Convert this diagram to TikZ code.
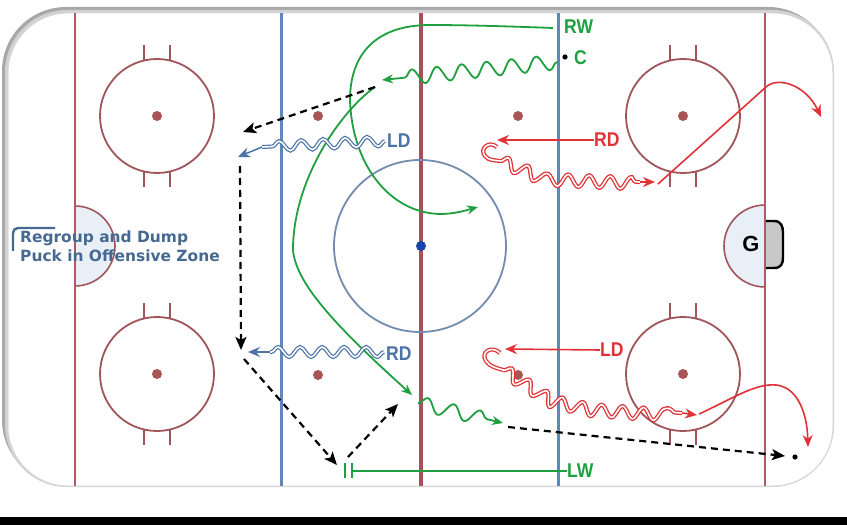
\documentclass[tikz,border=0pt]{standalone}
\usepackage{fontspec}
\usepackage{graphicx}
\usetikzlibrary{arrows.meta,decorations.pathmorphing}
\newfontfamily\lblfont{Liberation Sans}
\newfontfamily\capfont{DejaVu Sans}
\definecolor{rinkred}{RGB}{178,88,100}
\definecolor{cline}{RGB}{165,80,90}
\definecolor{faceoff}{RGB}{160,85,90}
\definecolor{rinkblue}{RGB}{95,135,185}
\definecolor{ccircle}{RGB}{115,140,175}
\definecolor{cdotblue}{RGB}{25,70,170}
\definecolor{spotred}{RGB}{170,85,85}
\definecolor{grn}{RGB}{30,160,65}
\definecolor{redarr}{RGB}{225,50,55}
\definecolor{bluearr}{RGB}{75,115,165}
\definecolor{capblue}{RGB}{70,105,145}
\definecolor{crease}{RGB}{233,239,246}
\definecolor{netgray}{RGB}{200,200,200}
\newcommand\plab[1]{\scalebox{0.88}[1]{#1}}
\begin{document}
\begin{tikzpicture}[x=1bp,y=-1bp,
  gpath/.style={draw=grn, line width=1.8bp},
  garrow/.style={-{Stealth[length=11bp,width=9bp]}},
  dpass/.style={draw=black, line width=2.2bp, dash pattern=on 7bp off 5bp, -{Stealth[length=13bp,width=11bp,inset=3bp]}},
  rdouble/.style={draw=redarr, line width=1.3bp, double=white, double distance=1.6bp},
  bdouble/.style={draw=bluearr, line width=1.2bp, double=white, double distance=1.6bp},
  redline/.style={draw=redarr, line width=1.6bp, -{Stealth[length=12bp,width=10bp]}},
  barrow/.style={draw=bluearr, line width=1.5bp, -{Stealth[length=12bp,width=10bp]}},
  lbl/.style={anchor=west, inner sep=0pt, font=\lblfont\bfseries\fontsize{20}{20}\selectfont},
  capt/.style={anchor=base west, inner sep=0pt, text=capblue, font=\capfont\bfseries\fontsize{15.5}{19}\selectfont},
  spot/.style={fill=spotred}
]
\useasboundingbox (0,0) rectangle (847,525);
\fill[white] (0,0) rectangle (847,525);
\fill[black] (0,517) rectangle (847,525);
% frame
\fill[black!34, rounded corners=64bp] (2,7) rectangle (832,484);
\fill[black!18, rounded corners=62bp] (5,10) rectangle (834,487);
\fill[white, rounded corners=60bp] (8,13) rectangle (833,486);
\draw[black!15, line width=1bp, rounded corners=60bp] (8,13) rectangle (833,486);
% creases
\begin{scope}
\clip (75,150) rectangle (140,340);
\filldraw[fill=crease, draw=faceoff, line width=1.6bp] (75,246) circle (40);
\end{scope}
\begin{scope}
\clip (700,150) rectangle (765,340);
\filldraw[fill=crease, draw=faceoff, line width=1.6bp] (765,246) circle (41);
\end{scope}
\filldraw[fill=netgray, draw=black, line width=2.4bp] (765,221) -- (774,221) .. controls (781,221) and (783,226) .. (783,233) -- (783,257) .. controls (783,264) and (781,268) .. (774,268) -- (765,268);
% rink lines
\draw[rinkred, line width=2bp] (75,13) -- (75,486);
\draw[rinkred, line width=2bp] (765,13) -- (765,486);
\draw[rinkblue, line width=3bp] (281,13) -- (281,486);
\draw[rinkblue, line width=3bp] (558,13) -- (558,486);
\draw[cline, line width=3.3bp] (421,13) -- (421,486);
% faceoff circles
\foreach \cx/\cy in {157/116, 157/374, 683/116, 683/374}{
  \draw[faceoff, line width=1.8bp] (\cx,\cy) circle (57);
  \fill[spot] (\cx,\cy) circle (5);
  \draw[faceoff, line width=1.8bp] ({\cx-13},{\cy-55}) -- ({\cx-13},{\cy-71});
  \draw[faceoff, line width=1.8bp] ({\cx+13},{\cy-55}) -- ({\cx+13},{\cy-71});
  \draw[faceoff, line width=1.8bp] ({\cx-13},{\cy+55}) -- ({\cx-13},{\cy+71});
  \draw[faceoff, line width=1.8bp] ({\cx+13},{\cy+55}) -- ({\cx+13},{\cy+71});
}
\foreach \p in {(318,116),(518,116),(318,375),(518,375)}{\fill[spot] \p circle (5);}
\draw[ccircle, line width=1.8bp] (420,246) circle (86);
\fill[cdotblue] (421,246) circle (5);
% caption
\draw[capblue, line width=2.4bp, rounded corners=5bp] (13,251) -- (13,228) -- (55,228);
\node[capt] (cap1) at (20,243) {Regroup and Dump};
\node[capt] (cap2) at (20,262) {Puck in Offensive Zone};
% labels
\node[lbl, text=grn] (RW) at (564,27) {\plab{RW}};
\node[lbl, text=grn] (C) at (574,58) {\plab{C}};
\node[lbl, text=bluearr] (LDb) at (387,141) {\plab{LD}};
\node[lbl, text=bluearr] (RDb) at (386,354) {\plab{RD}};
\node[lbl, text=redarr] (RDr) at (594,140) {\plab{RD}};
\node[lbl, text=redarr] (LDr) at (600,350) {\plab{LD}};
\node[lbl, text=grn] (LW) at (567,471) {\plab{LW}};
\node[inner sep=0pt, font=\lblfont\bfseries\fontsize{22}{22}\selectfont] (G) at (751,244) {G};
% coordinates
\coordinate (rw0) at (553,28);
\coordinate (rw1) at (430,25);
\coordinate (rw2) at (350,100);
\coordinate (rw3) at (440,214);
\coordinate (rw4) at (478,207);
\coordinate (cdot) at (565,57);
\coordinate (cw0) at (557,62);
\coordinate (cw1) at (382,80);
\coordinate (cb0) at (375,87);
\coordinate (cb1) at (293,250);
\coordinate (cb2) at (412,395);
\coordinate (lw0) at (418,403);
\coordinate (lw1) at (503,423);
\coordinate (lwbar) at (352,471);
\coordinate (d1b) at (243,132);
\coordinate (d2a) at (240,166);
\coordinate (d2b) at (241,350);
\coordinate (d3a) at (244,359);
\coordinate (d3b) at (337,465);
\coordinate (d4a) at (348,457);
\coordinate (d4b) at (398,404);
\coordinate (d5a) at (508,427);
\coordinate (d5b) at (785,456);
\coordinate (puck) at (795,457);
\coordinate (bl0) at (385,141);
\coordinate (bl1) at (262,147);
\coordinate (bl2) at (238,157);
\coordinate (br0) at (384,352);
\coordinate (br1) at (270,352);
\coordinate (br2) at (248,352);
\coordinate (ru1) at (497,140);
\coordinate (ru2) at (497,147);
\coordinate (ru3) at (500,161);
\coordinate (ru4) at (542,178);
\coordinate (ru5) at (640,182);
\coordinate (ru6) at (655,182);
\coordinate (ru7) at (658,184);
\coordinate (ru8) at (766,87);
\coordinate (ru9) at (821,117);
\coordinate (rl1) at (505,349);
\coordinate (rl2) at (500,353);
\coordinate (rl3) at (503,370);
\coordinate (rl4) at (545,397);
\coordinate (rl5) at (590,407);
\coordinate (rl6) at (682,413);
\coordinate (rl7) at (697,415);
\coordinate (rl8) at (699,414);
\coordinate (rl9) at (776,385);
\coordinate (rl10) at (808,447);
% green paths
\draw[gpath, garrow] (rw0) .. controls (500,26) and (460,25) .. (rw1) .. controls (375,25) and (350,55) .. (rw2) .. controls (352,165) and (390,213) .. (rw3) .. controls (455,214) and (467,210) .. (rw4);
\fill (cdot) circle (2.6);
\draw[gpath, garrow, decorate, decoration={snake, amplitude=7.5bp, segment length=25bp, post length=12bp}] (cw0) -- (cw1);
\draw[gpath, garrow] (cb0) .. controls (340,112) and (293,180) .. (cb1) .. controls (296,285) and (340,330) .. (cb2);
\draw[gpath, garrow, decorate, decoration={snake, amplitude=7bp, segment length=27bp, post length=10bp}] (lw0) -- (lw1);
\draw[gpath] (LW.west) -- (lwbar);
\draw[gpath] (345,463) -- (345,478);
\draw[gpath] (lwbar) ++(0,-8) -- ++(0,15);
% passes
\draw[dpass] (cb0) -- (d1b);
\draw[dpass] (d2a) -- (d2b);
\draw[dpass] (d3a) -- (d3b);
\draw[dpass] (d4a) -- (d4b);
\draw[dpass] (d5a) -- (d5b);
\fill (puck) circle (2.6);
% blue
\draw[bdouble, decorate, decoration={snake, amplitude=5bp, segment length=22bp}] (bl0) -- (bl1);
\draw[barrow] (bl1) -- (bl2);
\draw[bdouble, decorate, decoration={snake, amplitude=5bp, segment length=22bp}] (br0) -- (br1);
\draw[barrow] (br1) -- (br2);
% red upper
\draw[redline] (RDr.west) -- (ru1);
\draw[rdouble] (ru2) .. controls (489,140) and (479,149) .. (485,156) .. controls (489,161) and (495,160) .. (ru3);
\draw[rdouble, decorate, decoration={snake, amplitude=6bp, segment length=21bp}] (ru3) -- (ru4) -- (ru5);
\draw[redline] (ru5) -- (ru6);
\draw[redline] (ru7) -- (ru8) .. controls (778,76) and (806,85) .. (ru9);
% red lower
\draw[redline] (LDr.west) -- (rl1);
\draw[rdouble] (rl2) .. controls (492,345) and (480,352) .. (486,361) .. controls (490,367) and (497,368) .. (rl3);
\draw[rdouble, decorate, decoration={snake, amplitude=6bp, segment length=21bp}] (rl3) -- (rl4) -- (rl5) -- (rl6);
\draw[redline] (rl6) -- (rl7);
\draw[redline] (rl8) .. controls (730,400) and (755,383) .. (rl9) .. controls (796,387) and (807,410) .. (rl10);
\end{tikzpicture}
\end{document}
